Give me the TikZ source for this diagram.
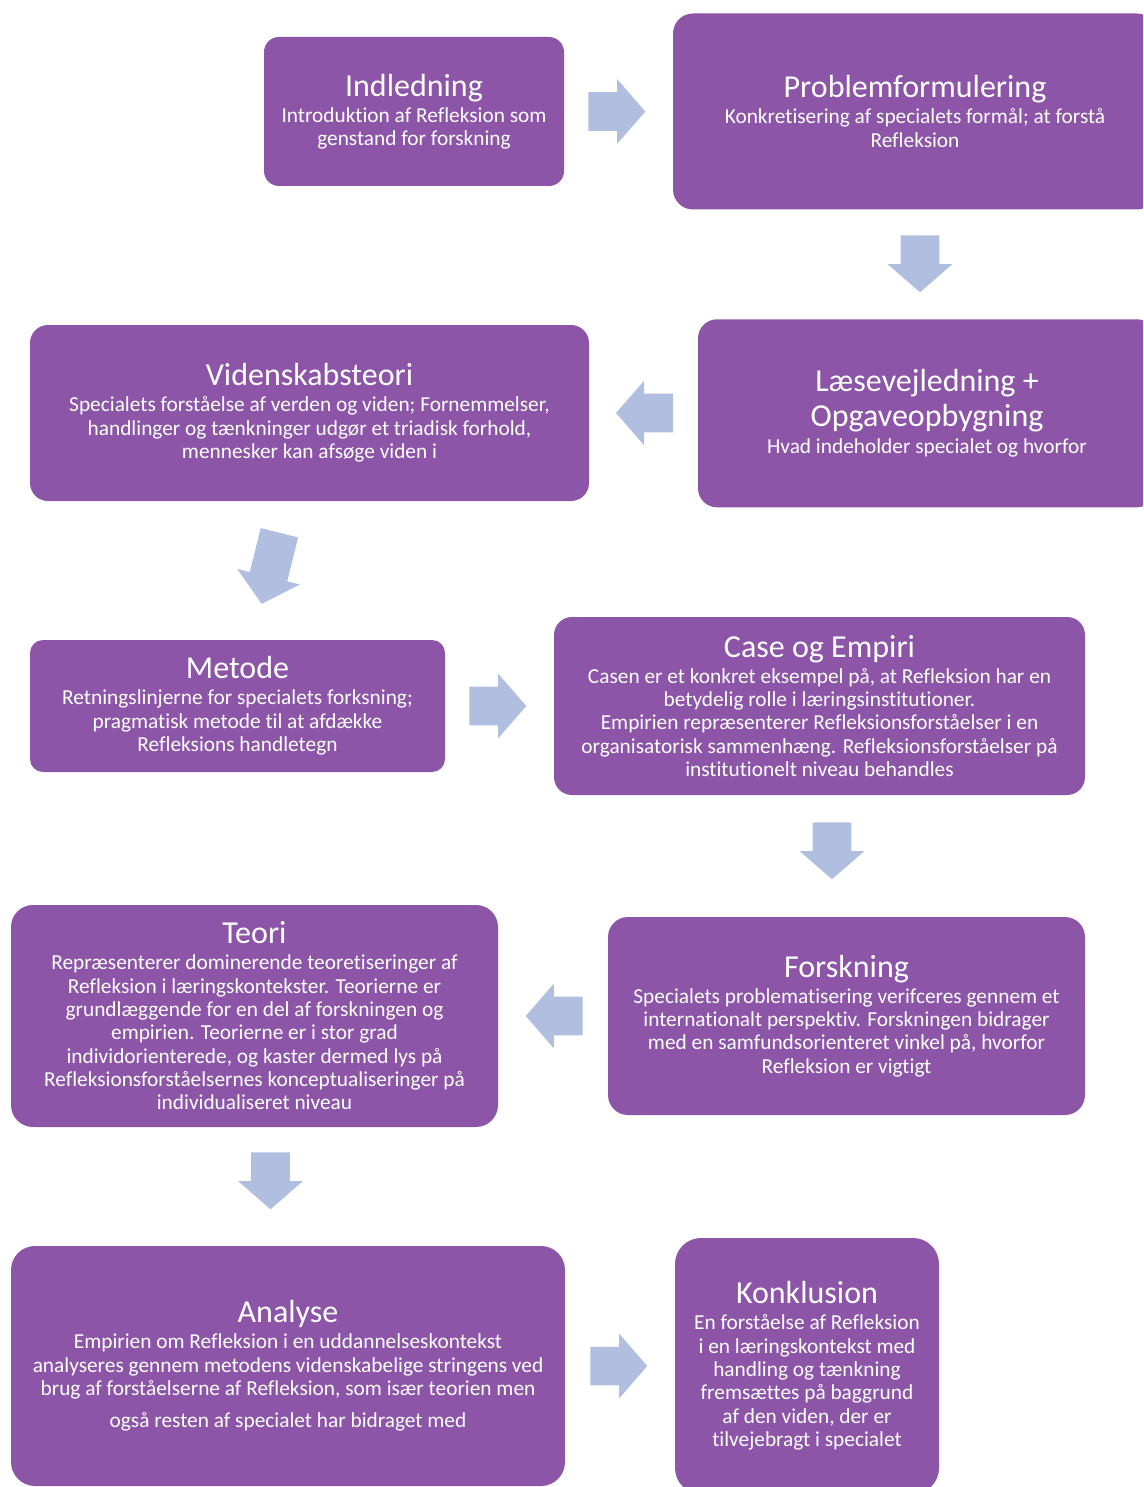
\documentclass[tikz,border=0pt]{standalone}
\usepackage{fontspec}
\setmainfont{Carlito}[Ligatures=NoCommon]
\usetikzlibrary{shapes,arrows,positioning,calc}

\definecolor{boxpurple}{RGB}{140,85,168}
\definecolor{arrowblue}{RGB}{176,190,223}

\newcommand{\boxtitle}[1]{{\fontsize{24}{26}\selectfont #1}}

\begin{document}
\begin{tikzpicture}[
    x=0.75pt, y=-0.75pt,
    stage/.style={rectangle, fill=boxpurple, text=white, align=center, inner sep=0pt, font=\fontsize{16}{17.5}\selectfont},
    blockarrow/.style={single arrow, fill=arrowblue, draw=none, inner xsep=0pt, inner ysep=14.25pt, single arrow head extend=9.75pt, single arrow tip angle=98, minimum height=42.75pt, anchor=tail},
    downarrow/.style={blockarrow, inner xsep=14.25pt, inner ysep=0pt, shape border rotate=270}
]
    \clip (0,0) rectangle (1143,1487);

    % Stages
    \node[stage, minimum width=225pt, minimum height=111.75pt, rounded corners=11.25pt] (indledning) at (414,111.5)
        {\boxtitle{Indledning}\\[2pt] Introduktion af Refleksion som\\ genstand for forskning};
    \node[stage, minimum width=363pt, minimum height=147pt, rounded corners=15pt] (problem) at (915,111.5)
        {\boxtitle{Problemformulering}\\[2pt] Konkretisering af specialets formål; at forstå\\ Refleksion};
    \node[stage, minimum width=343.5pt, minimum height=141pt, rounded corners=14.25pt] (laesning) at (927,413.3)
        {\boxtitle{Læsevejledning +}\\[4pt] \boxtitle{Opgaveopbygning}\\[3pt] Hvad indeholder specialet og hvorfor};
    \node[stage, minimum width=419.25pt, minimum height=132pt, rounded corners=13.5pt] (viden) at (309.5,413)
        {\boxtitle{Videnskabsteori}\\[2pt] Specialets forståelse af verden og viden; Fornemmelser,\\ handlinger og tænkninger udgør et triadisk forhold,\\ mennesker kan afsøge viden i};
    \node[stage, minimum width=311.25pt, minimum height=99pt, rounded corners=9.75pt] (metode) at (237.5,706)
        {\boxtitle{Metode}\\[2pt] Retningslinjerne for specialets forksning;\\ pragmatisk metode til at afdække\\ Refleksions handletegn};
    \node[stage, minimum width=398.25pt, minimum height=133.5pt, rounded corners=13.5pt] (empiri) at (819.5,706)
        {\boxtitle{Case og Empiri}\\[2pt] Casen er et konkret eksempel på, at Refleksion har en\\ betydelig rolle i læringsinstitutioner.\\ Empirien repræsenterer Refleksionsforståelser i en\\ organisatorisk sammenhæng. Refleksionsforståelser på\\ institutionelt niveau behandles};
    \node[stage, minimum width=357.75pt, minimum height=148.5pt, rounded corners=15pt] (forskning) at (846.5,1016)
        {\boxtitle{Forskning}\\[2pt] Specialets problematisering verifceres gennem et\\ internationalt perspektiv. Forskningen bidrager\\ med en samfundsorienteret vinkel på, hvorfor\\ Refleksion er vigtigt};
    \node[stage, minimum width=365.25pt, minimum height=166.5pt, rounded corners=16.5pt] (teori) at (254.5,1016)
        {\boxtitle{Teori}\\[2pt] Repræsenterer dominerende teoretiseringer af\\ Refleksion i læringskontekster. Teorierne er\\ grundlæggende for en del af forskningen og\\ empirien. Teorierne er i stor grad\\ individorienterede, og kaster dermed lys på\\ Refleksionsforståelsernes konceptualiseringer på\\ individualiseret niveau};
    \node[stage, minimum width=415.5pt, minimum height=180pt, rounded corners=18pt] (analyse) at (288,1366)
        {\boxtitle{Analyse}\\[2pt] Empirien om Refleksion i en uddannelseskontekst\\ analyseres gennem metodens videnskabelige stringens ved\\ brug af forståelserne af Refleksion, som især teorien men\\[6.75pt] også resten af specialet har bidraget med};
    \node[stage, minimum width=198pt, minimum height=192pt, rounded corners=19.5pt] (konklusion) at (807,1366)
        {\boxtitle{Konklusion}\\[2pt] En forståelse af Refleksion\\ i en læringskontekst med\\ handling og tænkning\\ fremsættes på baggrund\\ af den viden, der er\\ tilvejebragt i specialet};

    % Block arrows between stages
    \node[blockarrow] (pil1) at (588,111.5) {};
    \node[downarrow] (pil2) at (920,235) {};
    \node[blockarrow, shape border rotate=180] (pil3) at (673.3,413) {};
    \node[downarrow, rotate=-14, minimum height=55pt] (pil4) at (279.5,532.5) {};
    \node[blockarrow] (pil5) at (469,706) {};
    \node[downarrow] (pil6) at (832,822) {};
    \node[blockarrow, shape border rotate=180] (pil7) at (583,1016) {};
    \node[downarrow] (pil8) at (270.5,1152) {};
    \node[blockarrow] (pil9) at (590,1366) {};

\end{tikzpicture}
\end{document}
